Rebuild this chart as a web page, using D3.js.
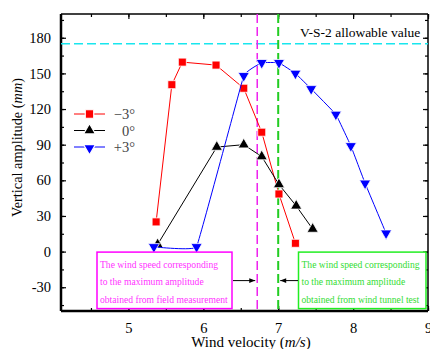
<!DOCTYPE html>
<meta charset="utf-8">
<script src="https://d3js.org/d3.v7.min.js"></script>
<html>
<head>
<style>
body { margin: 0; background: white; }
text { font-family: "Liberation Serif", "Times New Roman", serif; }
</style>
</head>
<body>
<div id="my_dataviz"></div>
<script>

// data
var negSpeed = [5.37, 5.58, 5.72, 6.17, 6.54, 6.78, 7.01, 7.23];
var negAmp   = [25, 140.5, 159.5, 157, 137.5, 100.5, 48.5, 7];

var zeroSpeed = [5.39, 6.18, 6.54, 6.78, 7.01, 7.24, 7.46];
var zeroAmp   = [6, 88, 90, 80, 56.5, 38.5, 19];

var posSpeed = [5.34, 5.91, 6.54, 6.78, 7.01, 7.23, 7.44, 7.77, 7.97, 8.16, 8.44];
var posAmp   = [4, 4, 148, 159, 159, 150, 137, 115.5, 89, 57.5, 15.5];

var xTicks = [5, 6, 7, 8, 9];
var yTicks = [-30, 0, 30, 60, 90, 120, 150, 180];
var allowable = 175;
var fieldSpeed = 6.72;
var tunnelSpeed = 7.0;

var fieldText = ["The wind speed corresponding", "to the maximum amplitude", "obtained from field measurement"];
var tunnelText = ["The wind speed corresponding", "to the maximum amplitude", "obtained from wind tunnel test"];

var W = 430, H = 349;
var margin = {top: 14, right: 2, bottom: 38, left: 61};
var width = W - margin.left - margin.right,
    height = H - margin.top - margin.bottom;

var svg = d3.select("#my_dataviz")
  .append("svg")
    .attr("width", W)
    .attr("height", H)
  .append("g")
    .attr("transform", "translate(" + margin.left + "," + margin.top + ")");

var x = d3.scaleLinear().domain([4.1, 9]).range([0, width]);
var y = d3.scaleLinear().domain([-50, 200]).range([height, 0]);

// minor ticks
var xMinor = d3.range(4.5, 9.01, 0.5);
var yMinor = d3.range(-45, 200, 15);

// bottom
var gb = svg.append("g").attr("transform", "translate(0," + height + ")");
gb.append("g").call(d3.axisBottom(x).tickValues(xMinor).tickSize(-3).tickFormat(""));
gb.append("g").attr("class", "major").call(d3.axisBottom(x).tickValues(xTicks).tickSize(-5).tickPadding(12).tickFormat(d3.format("d")));
// top
var gt = svg.append("g");
gt.append("g").call(d3.axisTop(x).tickValues(xMinor).tickSize(-3).tickFormat(""));
gt.append("g").call(d3.axisTop(x).tickValues(xTicks).tickSize(-5).tickFormat(""));
// left
var gl = svg.append("g");
gl.append("g").call(d3.axisLeft(y).tickValues(yMinor).tickSize(-3).tickFormat(""));
gl.append("g").attr("class", "major").call(d3.axisLeft(y).tickValues(yTicks).tickSize(-5).tickPadding(10).tickFormat(function(d) { return d < 0 ? "-" + Math.abs(d) : d; }));
// right
var gr = svg.append("g").attr("transform", "translate(" + width + ",0)");
gr.append("g").call(d3.axisRight(y).tickValues(yMinor).tickSize(-3).tickFormat(""));
gr.append("g").call(d3.axisRight(y).tickValues(yTicks).tickSize(-5).tickFormat(""));

svg.selectAll(".domain").remove();
svg.selectAll(".tick line").attr("stroke", "black").attr("stroke-width", 1.2);
svg.selectAll(".major .tick text")
  .style("font-size", "14.5px")
  .attr("fill", "black");

// frame
svg.append("line").attr("x1", 0).attr("x2", width).attr("y1", 0).attr("y2", 0).attr("stroke", "black").attr("stroke-width", 1.5);
svg.append("line").attr("x1", width).attr("x2", width).attr("y1", 0).attr("y2", height).attr("stroke", "black").attr("stroke-width", 1.5);
svg.append("line").attr("x1", 0).attr("x2", width).attr("y1", height).attr("y2", height).attr("stroke", "black").attr("stroke-width", 2.5);
svg.append("line").attr("x1", 0).attr("x2", 0).attr("y1", 0).attr("y2", height).attr("stroke", "black").attr("stroke-width", 2.5);

// reference lines
svg.append("line")
  .attr("x1", 0).attr("x2", width)
  .attr("y1", y(allowable)).attr("y2", y(allowable))
  .attr("stroke", "#19e6ee").attr("stroke-width", 1.5)
  .attr("stroke-dasharray", "9,4");
svg.append("line")
  .attr("x1", x(fieldSpeed)).attr("x2", x(fieldSpeed))
  .attr("y1", 0).attr("y2", height)
  .attr("stroke", "#ee22ee").attr("stroke-width", 1.5)
  .attr("stroke-dasharray", "9,4");
svg.append("line")
  .attr("x1", x(tunnelSpeed)).attr("x2", x(tunnelSpeed))
  .attr("y1", 0).attr("y2", height)
  .attr("stroke", "#22cc22").attr("stroke-width", 2)
  .attr("stroke-dasharray", "9,4");

svg.append("text")
  .attr("x", 239).attr("y", 23)
  .style("font-size", "13.5px")
  .text("V-S-2 allowable value");

// series
var series = [
  {name: "\u22123\u00b0", xs: negSpeed, ys: negAmp, color: "red", shape: d3.symbolSquare, size: 64, rot: 0, curve: d3.curveLinear},
  {name: "0\u00b0", xs: zeroSpeed, ys: zeroAmp, color: "black", shape: d3.symbolTriangle, size: 54, rot: 0, curve: d3.curveLinear},
  {name: "+3\u00b0", xs: posSpeed, ys: posAmp, color: "#0000ff", shape: d3.symbolTriangle, size: 54, rot: 180, curve: d3.curveCardinal.tension(0.85)}
];

series.forEach(function(s) {
  var pts = s.xs.map(function(v, i) { return [v, s.ys[i]]; });
  svg.append("path")
    .datum(pts)
    .attr("fill", "none")
    .attr("stroke", s.color)
    .attr("stroke-width", 1)
    .attr("d", d3.line()
      .curve(s.curve)
      .x(function(d) { return x(d[0]); })
      .y(function(d) { return y(d[1]); }));
  svg.append("g")
    .selectAll("path")
    .data(pts)
    .enter()
    .append("path")
      .attr("d", d3.symbol().type(s.shape).size(s.size))
      .attr("transform", function(d) { return "translate(" + x(d[0]) + "," + y(d[1]) + ") rotate(" + s.rot + ")"; })
      .attr("fill", s.color)
      .attr("stroke", "white")
      .attr("stroke-width", 0.8);
});

// legend
var legend = svg.append("g").attr("transform", "translate(13,100)");
series.forEach(function(s, i) {
  var ly = i * 16.5;
  legend.append("line")
    .attr("x1", 0).attr("x2", 31).attr("y1", ly).attr("y2", ly)
    .attr("stroke", s.color).attr("stroke-width", 1);
  legend.append("path")
    .attr("d", d3.symbol().type(s.shape).size(s.size + 8))
    .attr("transform", "translate(15.5," + (ly + (s.rot ? 1 : 0)) + ") rotate(" + s.rot + ")")
    .attr("fill", s.color)
    .attr("stroke", "white")
    .attr("stroke-width", 1.2);
  legend.append("text")
    .attr("x", 61).attr("y", ly + 5)
    .attr("text-anchor", "end")
    .attr("fill", "#444")
    .style("font-size", "14.5px")
    .text(s.name);
});

// annotation boxes
function noteBox(x0, x1, lines, color, textColor) {
  svg.append("rect")
    .attr("x", x0).attr("y", y(0) + 0.5)
    .attr("width", x1 - x0).attr("height", 56.5)
    .attr("fill", "white")
    .attr("stroke", color).attr("stroke-width", 1.5);
  lines.forEach(function(t, i) {
    svg.append("text")
      .attr("x", x0 + 3).attr("y", y(0) + 16 + i * 17.8)
      .attr("fill", textColor)
      .style("font-size", "9.6px")
      .text(t);
  });
}
noteBox(36, 171, fieldText, "#ff00ff", "#ff33ff");
noteBox(237.5, 365, tunnelText, "#22ee22", "#33dd33");

// arrows
var defs = svg.append("defs");
defs.append("marker")
  .attr("id", "arr")
  .attr("viewBox", "0 0 10 10")
  .attr("refX", 10).attr("refY", 5)
  .attr("markerWidth", 7).attr("markerHeight", 6)
  .attr("markerUnits", "userSpaceOnUse")
  .attr("orient", "auto")
  .append("path").attr("d", "M0,1 L10,5 L0,9 Z").attr("fill", "black");
var arrowY = y(0) + 29;
svg.append("line")
  .attr("x1", 172).attr("x2", x(fieldSpeed) - 2)
  .attr("y1", arrowY).attr("y2", arrowY)
  .attr("stroke", "black").attr("stroke-width", 1)
  .attr("marker-end", "url(#arr)");
svg.append("line")
  .attr("x1", 237).attr("x2", x(tunnelSpeed) + 2)
  .attr("y1", arrowY).attr("y2", arrowY)
  .attr("stroke", "black").attr("stroke-width", 1)
  .attr("marker-end", "url(#arr)");

// axis labels
svg.append("text")
  .attr("text-anchor", "middle")
  .attr("x", 190).attr("y", height + 36)
  .style("font-size", "15px")
  .html("Wind velocity (<tspan font-style='italic'>m/s</tspan>)");
svg.append("text")
  .attr("text-anchor", "middle")
  .attr("transform", "translate(-39,133.5) rotate(-90)")
  .style("font-size", "14.3px")
  .html("Vertical amplitude (<tspan font-style='italic'>mm</tspan>)");

</script>
</body>
</html>
